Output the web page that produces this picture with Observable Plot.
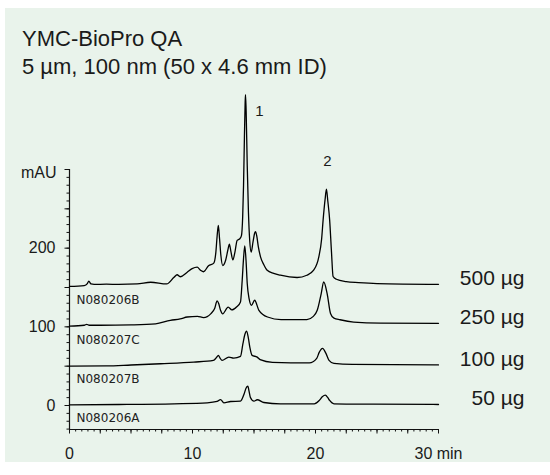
<!DOCTYPE html>
<html>
<head>
<meta charset="utf-8">
<script src="https://cdn.jsdelivr.net/npm/d3@7"></script>
<script src="https://cdn.jsdelivr.net/npm/@observablehq/plot@0.6"></script>
<style>
  body { margin: 0; background: #fff; }
  #wrap { position: relative; width: 550px; height: 475px; overflow: hidden; background: #fff; }
  #panel { position: absolute; left: 5px; top: 8px; width: 545px; height: 454px; background: #e9f3eb; }
  #title { position: absolute; left: 22px; top: 25px; font: 22px/28px "Liberation Sans", Arial, Helvetica, sans-serif; color: #1a1a1a; }
  #chart { position: absolute; left: 0; top: 0; }
</style>
</head>
<body>
<div id="wrap">
  <div id="panel"></div>
  <div id="title">YMC-BioPro QA<br>5 µm, 100 nm (50 x 4.6 mm ID)</div>
  <div id="chart"></div>
</div>
<script>
// ---- data ----
const doses = ["500 µg", "250 µg", "100 µg", "50 µg"];
const sampleIds = ["N080206B", "N080207C", "N080207B", "N080206A"];
const offsets = [150, 100, 50, 0];           // vertical stacking offset of each trace (mAU)
const xDomain = [0, 30];                     // min
const yDomain = [-30.5, 300];                // mAU
const xLabelTicks = [0, 10, 20, 30];
const yLabelTicks = [0, 100, 200];
const peakNames = ["1", "2"];
const peakTimes = [14.31, 20.89];

// [time (min), signal (mAU above own baseline)]
const trace500 = [[0,1.5],[1.2,2.5],[1.45,5],[1.57,8],[1.75,4.5],[2,4],[3,4.2],[4,4],[5.5,4.5],[6.6,6.7],[7.9,4.5],
  [8.5,13],[8.75,16.2],[9.0,13.7],[9.57,19.4],[9.97,23.9],[10.38,25.8],[10.65,22],[10.9,20],[11.3,27.7],[11.73,31],
  [11.9,45],[12.0,65],[12.1,79],[12.2,62],[12.3,42],[12.46,28],[12.7,35],[12.88,48],[13.0,55],[13.12,46],[13.28,35],
  [13.45,45],[13.63,60],[13.85,62],[13.98,66],[14.08,90],[14.15,130],[14.22,190],[14.28,235],[14.31,245],[14.36,225],
  [14.45,155],[14.55,95],[14.65,60],[14.77,45],[14.92,58],[15.05,69],[15.12,71],[15.22,66],[15.35,52],[15.53,39],
  [15.8,29],[16.07,22],[16.6,18],[17.15,15.6],[18.5,12.7],[19.3,15.6],[19.85,22],[20.27,39],[20.5,62],[20.62,86],
  [20.78,112],[20.89,125],[21.0,110],[21.15,86],[21.3,45],[21.43,14],[21.7,10.5],[22.5,7.5],[23.5,6.2],[25,5],[30,4.1]];
const trace250 = [[0,1],[1.2,2],[1.4,3.2],[1.6,2],[2.5,2],[5,2.5],[7,3.8],[8.2,8.3],[9.0,10],[9.57,12.5],[10.4,13.4],
  [10.9,11.7],[11.5,16.8],[11.8,23.2],[12.0,32.9],[12.12,30],[12.28,21],[12.45,16.5],[12.9,25],[13.2,21.5],[13.6,25.5],
  [13.9,31.6],[14.04,59],[14.15,87],[14.25,103],[14.35,85],[14.45,55],[14.6,36],[14.8,27.4],[15.05,33.8],[15.4,21],
  [16.1,12.5],[17.2,9.2],[19.3,9.2],[19.8,13],[20.14,21],[20.46,42],[20.67,57],[20.95,42],[21.22,17],[21.5,11],
  [22,9],[23.1,6.1],[25.3,4.8],[30,4.5]];
const trace100 = [[0,0],[3,0.3],[5,1.5],[7.4,3.1],[10.1,5.2],[11.7,7.3],[11.95,11],[12.1,13.7],[12.25,10],[12.4,7.3],
  [12.95,11.5],[13.35,10.3],[13.9,12.4],[14.1,28.6],[14.25,40],[14.4,44.6],[14.55,35],[14.66,24.3],[14.85,13.7],
  [15.26,11.5],[15.5,8.2],[16.5,4.8],[19.5,4.1],[20.1,9.9],[20.3,17.5],[20.57,22.6],[20.85,16.2],[21.1,7.3],
  [21.5,3.5],[23,2.2],[30,1.6]];
const trace50 = [[0,0.9],[4,1.3],[8.5,2.2],[11.2,3.4],[12.0,5.1],[12.28,7.6],[12.55,3.4],[13.1,5.1],[13.9,5.5],
  [14.2,14.9],[14.35,22],[14.5,24.6],[14.6,18],[14.7,10.6],[15.0,5.5],[15.26,7.3],[15.8,3.8],[17.15,2.2],[19.9,2.2],
  [20.3,6.4],[20.55,11],[20.8,13.1],[21.0,10],[21.15,6.4],[21.5,2.2],[24.7,1.7],[30,1.3]];

const traces = [trace500, trace250, trace100, trace50];

// ---- build tables ----
const rows = [];
traces.forEach((tr, i) => tr.forEach(([t, v]) => rows.push({dose: doses[i], t, y: v + offsets[i]})));
const endLabels = traces.map((tr, i) => ({dose: doses[i], t: tr[tr.length - 1][0], y: tr[tr.length - 1][1] + offsets[i]}));
const idLabels = sampleIds.map((id, i) => ({id, y: offsets[i]}));
const peakLabels = peakNames.map((name, i) => {
  const p = trace500.find(d => d[0] === peakTimes[i]);
  return {name, t: p[0], y: p[1] + offsets[0]};
});

const font = '"Liberation Sans", Arial, Helvetica, sans-serif';

const chart = Plot.plot({
  width: 550,
  height: 475,
  marginLeft: 69,
  marginRight: 112,
  marginTop: 169,
  marginBottom: 46,
  x: {domain: xDomain, axis: null},
  y: {domain: yDomain, axis: null},
  style: {background: "transparent", fontFamily: font, color: "#1a1a1a", overflow: "visible"},
  marks: [
    // axis lines
    Plot.ruleX([xDomain[0]], {stroke: "#111", strokeWidth: 1.2}),
    Plot.ruleY([yDomain[0]], {stroke: "#111", strokeWidth: 1.2}),
    // x ticks
    Plot.axisX(d3.range(0, 30.001, 0.5), {anchor: "bottom", tickSize: 2.5, tickFormat: () => "", label: null, stroke: "#111"}),
    Plot.axisX(d3.range(0, 30.001, 2.5), {anchor: "bottom", tickSize: 4.5, tickFormat: () => "", label: null, stroke: "#111"}),
    Plot.axisX(xLabelTicks, {anchor: "bottom", tickSize: 0, tickPadding: 18, fontSize: 16, label: null,
      tickFormat: d => d === 30 ? "30 min" : String(d)}),
    // y ticks
    Plot.axisY(d3.range(-30, 300.001, 10), {anchor: "left", tickSize: 2.5, tickFormat: () => "", label: null, stroke: "#111"}),
    Plot.axisY(d3.range(0, 300.001, 50), {anchor: "left", tickSize: 4.5, tickFormat: () => "", label: null, stroke: "#111"}),
    Plot.axisY(yLabelTicks, {anchor: "left", tickSize: 0, tickPadding: 14, fontSize: 16, label: null}),
    Plot.text(["mAU"], {frameAnchor: "top-left", dx: -13, dy: -3, textAnchor: "end", fontSize: 16}),
    // traces
    Plot.line(rows, {x: "t", y: "y", z: "dose", stroke: "#000", strokeWidth: 1.3, curve: "monotone-x"}),
    // labels
    Plot.text(endLabels, {y: "y", text: "dose", frameAnchor: "right", dx: 86, dy: -6, textAnchor: "end", fontSize: 21}),
    Plot.text(idLabels, {y: "y", text: "id", frameAnchor: "left", dx: 7, dy: 13, textAnchor: "start", fontSize: 12,
      fontFamily: "DejaVu Sans, sans-serif", fill: "#222"}),
    Plot.text([peakLabels[0]], {x: "t", y: "y", text: "name", dx: 14, dy: 16, fontSize: 15}),
    Plot.text([peakLabels[1]], {x: "t", y: "y", text: "name", dx: 1, dy: -28, fontSize: 15})
  ]
});
document.getElementById("chart").appendChild(chart);
</script>
</body>
</html>
